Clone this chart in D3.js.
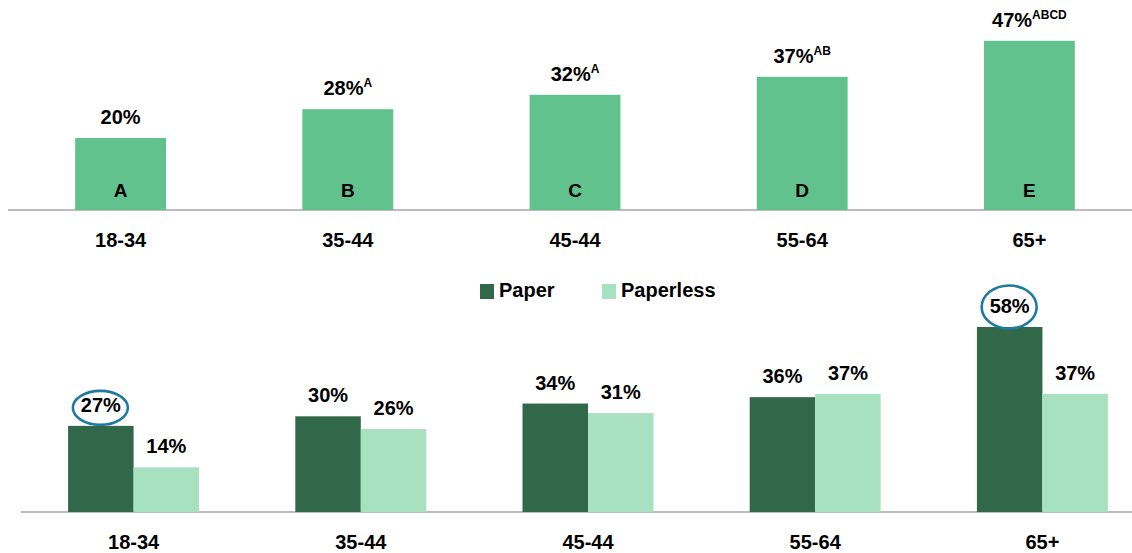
<!DOCTYPE html>
<html>
<head>
<meta charset="utf-8">
<script src="https://cdn.jsdelivr.net/npm/d3@7"></script>
<style>
  html, body { margin: 0; padding: 0; background: #fff; }
  svg { display: block; font-family: "Liberation Sans", Arial, sans-serif; font-weight: bold; }
</style>
</head>
<body>
<svg id="chart" width="1132" height="553"></svg>
<script>
// ---- data ----
const ageGroups = ["18-34", "35-44", "45-44", "55-64", "65+"];
const topValues = [20, 28, 32, 37, 47];
const topLetters = ["A", "B", "C", "D", "E"];
const topSig = ["", "A", "A", "AB", "ABCD"];
const seriesNames = ["Paper", "Paperless"];
const paperValues = [27, 30, 34, 36, 58];
const paperlessValues = [14, 26, 31, 37, 37];
const highlighted = [["18-34", "Paper"], ["65+", "Paper"]];

const colors = { top: "#62c28d", Paper: "#31684a", Paperless: "#a8e1c0", ring: "#1f7b9e", axis: "#a6a6a6" };

const svg = d3.select("#chart");

// ---- top chart ----
const xTop = d3.scaleBand().domain(ageGroups).range([7, 1143]).paddingInner(0.6).paddingOuter(0.3);
const yTop = d3.scaleLinear().domain([0, 50]).range([210, 30]);

const gTop = svg.append("g");
gTop.append("line").attr("x1", 8).attr("x2", 1132).attr("y1", yTop(0)).attr("y2", yTop(0))
  .attr("stroke", colors.axis).attr("stroke-width", 1.3);

const topData = ageGroups.map((g, i) => ({ g, v: topValues[i], letter: topLetters[i], sig: topSig[i] }));
gTop.selectAll("rect").data(topData).join("rect")
  .attr("x", d => xTop(d.g)).attr("width", xTop.bandwidth())
  .attr("y", d => yTop(d.v)).attr("height", d => yTop(0) - yTop(d.v))
  .attr("fill", colors.top);

const lbl = gTop.selectAll("text.val").data(topData).join("text").attr("class", "val")
  .attr("x", d => xTop(d.g) + xTop.bandwidth() / 2)
  .attr("y", d => yTop(d.v) - 14)
  .attr("text-anchor", "middle").attr("font-size", 20).attr("fill", "#000");
lbl.append("tspan").text(d => d.v + "%");
lbl.filter(d => d.sig).append("tspan").attr("font-size", 12).attr("dy", -8).text(d => d.sig);

gTop.selectAll("text.letter").data(topData).join("text").attr("class", "letter")
  .attr("x", d => xTop(d.g) + xTop.bandwidth() / 2).attr("y", yTop(0) - 13)
  .attr("text-anchor", "middle").attr("font-size", 19).attr("fill", "#000").text(d => d.letter);

gTop.selectAll("text.cat").data(ageGroups).join("text").attr("class", "cat")
  .attr("x", d => xTop(d) + xTop.bandwidth() / 2).attr("y", 247)
  .attr("text-anchor", "middle").attr("font-size", 20).attr("fill", "#000").text(d => d);

// ---- bottom chart ----
const x0 = d3.scaleBand().domain(ageGroups).range([20, 1156]).paddingInner(0.4235).paddingOuter(0.21175);
const x1 = d3.scaleBand().domain(seriesNames).range([0, x0.bandwidth()]);
const yBot = d3.scaleLinear().domain([0, 60]).range([512, 320.6]);

const gBot = svg.append("g");
gBot.append("line").attr("x1", 21).attr("x2", 1132).attr("y1", yBot(0)).attr("y2", yBot(0))
  .attr("stroke", colors.axis).attr("stroke-width", 1.3);

const botData = [];
ageGroups.forEach((g, i) => {
  botData.push({ g, s: "Paper", v: paperValues[i] });
  botData.push({ g, s: "Paperless", v: paperlessValues[i] });
});

gBot.selectAll("rect").data(botData).join("rect")
  .attr("x", d => x0(d.g) + x1(d.s)).attr("width", x1.bandwidth())
  .attr("y", d => yBot(d.v)).attr("height", d => yBot(0) - yBot(d.v))
  .attr("fill", d => colors[d.s]);

gBot.selectAll("text.val").data(botData).join("text").attr("class", "val")
  .attr("x", d => x0(d.g) + x1(d.s) + x1.bandwidth() / 2)
  .attr("y", d => yBot(d.v) - 14)
  .attr("text-anchor", "middle").attr("font-size", 20).attr("fill", "#000")
  .text(d => d.v + "%");

const hl = botData.filter(d => highlighted.some(h => h[0] === d.g && h[1] === d.s));
gBot.selectAll("ellipse").data(hl).join("ellipse")
  .attr("cx", d => x0(d.g) + x1(d.s) + x1.bandwidth() / 2 - 0.5)
  .attr("cy", d => yBot(d.v) - (d.v > 50 ? 20 : 18))
  .attr("rx", 27.5).attr("ry", d => d.v > 50 ? 21.5 : 17)
  .attr("fill", "none").attr("stroke", colors.ring).attr("stroke-width", 2.6);

gBot.selectAll("text.cat").data(ageGroups).join("text").attr("class", "cat")
  .attr("x", d => x0(d) + x0.bandwidth() / 2).attr("y", 549)
  .attr("text-anchor", "middle").attr("font-size", 20).attr("fill", "#000").text(d => d);

// legend
const legendX = [480, 602];
const leg = gBot.selectAll("g.leg").data(seriesNames).join("g").attr("class", "leg")
  .attr("transform", (d, i) => `translate(${legendX[i]},284)`);
leg.append("rect").attr("width", 14).attr("height", 15).attr("fill", d => colors[d]);
leg.append("text").attr("x", 19).attr("y", 13).attr("font-size", 20).attr("fill", "#000").text(d => d);
</script>
</body>
</html>
